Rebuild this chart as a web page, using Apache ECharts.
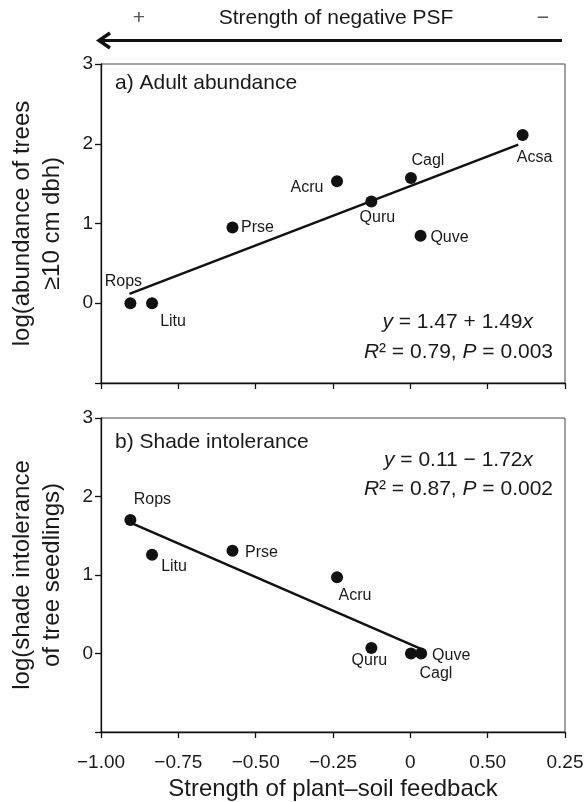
<!DOCTYPE html>
<html>
<head>
<meta charset="utf-8">
<script src="https://cdn.jsdelivr.net/npm/echarts@6/dist/echarts.min.js"></script>
<style>
html,body{margin:0;padding:0;background:#fff;}
#chart{width:585px;height:802px;}
</style>
</head>
<body>
<div id="chart"></div>
<script>
// ---- data ----
const speciesA = ['Rops','Litu','Prse','Acru','Quru','Cagl','Quve','Acsa'];
const psfA     = [-0.905,-0.835,-0.575,-0.237,-0.126,0.002,0.033,0.363];
const abundA   = [0.0,0.0,0.95,1.53,1.275,1.57,0.845,2.11];
const fitAx    = [-0.908,0.349];
const fitAy    = [0.117,1.99];

const speciesB = ['Rops','Litu','Prse','Acru','Quru','Cagl','Quve'];
const psfB     = [-0.905,-0.835,-0.575,-0.237,-0.126,0.002,0.035];
const shadeB   = [1.70,1.257,1.31,0.97,0.07,0.0,0.0];
const fitBx    = [-0.905,0.04];
const fitBy    = [1.667,0.05];

const xTickLabels = ['\u22121.00','\u22120.75','\u22120.50','\u22120.25','0','0.50','0.25'];
const yTickLabels = ['0','1','2','3'];

// ---- layout (label placements, not data) ----
const placeA = {Rops:[-7,-22],Litu:[21,18],Prse:[25,0],Acru:[-30,6],Quru:[6,16],Cagl:[17,-17],Quve:[29,2],Acsa:[12,23]};
const placeB = {Rops:[22,-20],Litu:[22,12],Prse:[29,2],Acru:[18,18],Quru:[-2,13],Cagl:[25,20],Quve:[30,2]};

const FONT = '"Liberation Sans", Arial, Helvetica, sans-serif';
const TXT = '#1a1a1a';

function pts(xs, ys, names, place){
  return xs.map((x,i)=>({
    value:[x, ys[i]],
    name:names[i],
    label:{show:true, position:'inside', offset:place[names[i]], formatter:names[i],
      color:TXT, opacity:1, fontSize:16, fontFamily:FONT, align:'center', verticalAlign:'middle'}
  }));
}

const xMin=-1, xMax=0.5, xInt=0.25;
function xLab(v){ const i=Math.round((v-xMin)/xInt); return xTickLabels[i]!==undefined?xTickLabels[i]:''; }
function yLab(v){ return v>=0 ? yTickLabels[Math.round(v)] : ''; }

const axisLine={onZero:false, lineStyle:{color:'#111',width:1.3}};
const axisTick={show:true,inside:false,length:6,lineStyle:{color:'#111',width:1.3}};

function xAxis(gi, showLabels){
  return {type:'value', gridIndex:gi, min:xMin, max:xMax, interval:xInt,
    axisLine:axisLine, axisTick:axisTick, splitLine:{show:false},
    axisLabel:{show:showLabels, formatter:xLab, color:TXT, fontSize:19, fontFamily:FONT, margin:21},
    name: showLabels?'Strength of plant\u2013soil feedback':'', nameLocation:'middle', nameGap:45,
    nameTextStyle:{color:TXT, fontSize:24, fontFamily:FONT}};
}
function yAxis(gi, name){
  return {type:'value', gridIndex:gi, min:-1, max:3, interval:1,
    axisLine:axisLine, axisTick:axisTick, splitLine:{show:false},
    axisLabel:{formatter:yLab, color:TXT, fontSize:19, fontFamily:FONT, margin:8},
    name:name, nameLocation:'middle', nameRotate:90, nameGap:34,
    nameTextStyle:{color:TXT, fontSize:24, fontFamily:FONT, lineHeight:30, align:'center'}};
}

const option = {
  backgroundColor:'#fff',
  animation:false,
  grid:[
    {left:101, top:64, width:464, height:319, show:true, borderColor:'#444', borderWidth:1, containLabel:false, outerBoundsMode:'none'},
    {left:101, top:418, width:464, height:314, show:true, borderColor:'#444', borderWidth:1, containLabel:false, outerBoundsMode:'none'}
  ],
  xAxis:[xAxis(0,false), xAxis(1,true)],
  yAxis:[yAxis(0,'log(abundance of trees\n\u226510 cm dbh)'), yAxis(1,'log(shade intolerance\nof tree seedlings)')],
  series:[
    {type:'line', xAxisIndex:0, yAxisIndex:0, data:fitAx.map((x,i)=>[x,fitAy[i]]), symbol:'none',
      lineStyle:{color:'#111',width:2.4}, z:2},
    {type:'scatter', xAxisIndex:0, yAxisIndex:0, data:pts(psfA,abundA,speciesA,placeA), symbolSize:12,
      itemStyle:{color:'#111', opacity:1}, z:3},
    {type:'line', xAxisIndex:1, yAxisIndex:1, data:fitBx.map((x,i)=>[x,fitBy[i]]), symbol:'none',
      lineStyle:{color:'#111',width:2.4}, z:2},
    {type:'scatter', xAxisIndex:1, yAxisIndex:1, data:pts(psfB,shadeB,speciesB,placeB), symbolSize:12,
      itemStyle:{color:'#111', opacity:1}, z:3}
  ],
  graphic:[
    // arrow
    {type:'line', shape:{x1:100,y1:40.5,x2:562,y2:40.5}, style:{stroke:'#111',lineWidth:3}},
    {type:'polyline', shape:{points:[[110,33],[99,40.5],[110,48]]}, style:{stroke:'#111',lineWidth:3.4,fill:null}},
    {type:'text', x:139, y:18, style:{text:'+', fill:'#555', font:'300 21px '+FONT, textAlign:'center', textVerticalAlign:'middle'}},
    {type:'text', x:336, y:18, style:{text:'Strength of negative PSF', fill:TXT, font:'21px '+FONT, textAlign:'center', textVerticalAlign:'middle'}},
    {type:'text', x:543, y:18, style:{text:'\u2212', fill:'#555', font:'21px '+FONT, textAlign:'center', textVerticalAlign:'middle'}},
    // panel titles
    {type:'text', x:115, y:83, style:{text:'a) Adult abundance', fill:TXT, font:'21px '+FONT, textAlign:'left', textVerticalAlign:'middle'}},
    {type:'text', x:115, y:442, style:{text:'b) Shade intolerance', fill:TXT, font:'21px '+FONT, textAlign:'left', textVerticalAlign:'middle'}},
    // equations
    {type:'text', x:533, y:322, style:{text:'{i|y} = 1.47 + 1.49{i|x}', fill:TXT, font:'21px '+FONT, textAlign:'right', textVerticalAlign:'middle',
      rich:{i:{fontStyle:'italic', fontSize:21, fontFamily:FONT, fill:TXT}}}},
    {type:'text', x:553, y:352, style:{text:'{i|R}\u00b2 = 0.79, {i|P} = 0.003', fill:TXT, font:'21px '+FONT, textAlign:'right', textVerticalAlign:'middle',
      rich:{i:{fontStyle:'italic', fontSize:21, fontFamily:FONT, fill:TXT}}}},
    {type:'text', x:533, y:460, style:{text:'{i|y} = 0.11 \u2212 1.72{i|x}', fill:TXT, font:'21px '+FONT, textAlign:'right', textVerticalAlign:'middle',
      rich:{i:{fontStyle:'italic', fontSize:21, fontFamily:FONT, fill:TXT}}}},
    {type:'text', x:553, y:489, style:{text:'{i|R}\u00b2 = 0.87, {i|P} = 0.002', fill:TXT, font:'21px '+FONT, textAlign:'right', textVerticalAlign:'middle',
      rich:{i:{fontStyle:'italic', fontSize:21, fontFamily:FONT, fill:TXT}}}}
  ]
};

const chart = echarts.init(document.getElementById('chart'), null, {renderer:'canvas'});
chart.setOption(option);
</script>
</body>
</html>
